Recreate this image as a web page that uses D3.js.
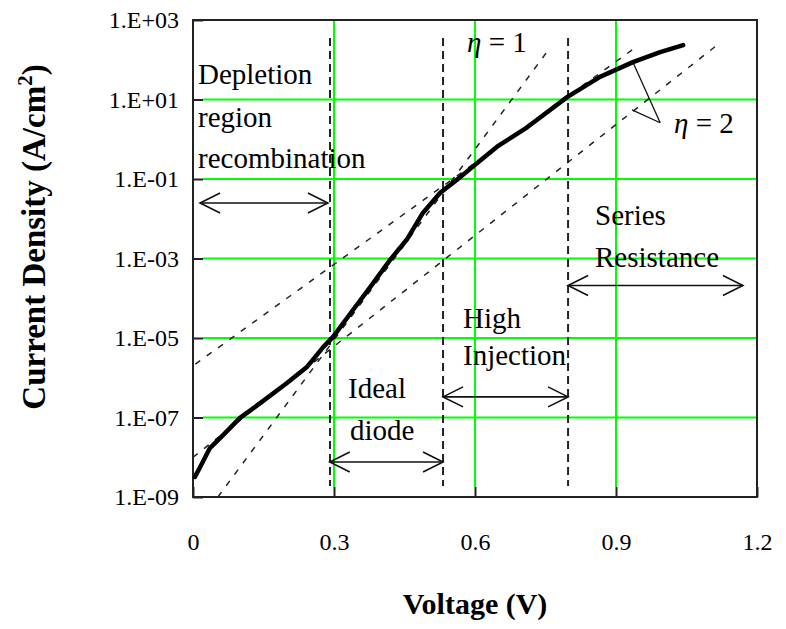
<!DOCTYPE html>
<html><head><meta charset="utf-8">
<script src="https://cdn.jsdelivr.net/npm/d3@7"></script>
<style>body{margin:0;background:#fff}svg{display:block}text{font-family:"Liberation Serif","Times New Roman",serif;fill:#000}</style>
</head><body>
<svg id="c" width="786" height="629"></svg>
<script>
// ---- data ----
const xTicks = [0, 0.3, 0.6, 0.9, 1.2];
const xTickLabels = ["0", "0.3", "0.6", "0.9", "1.2"];
const yTicks = [1e3, 1e1, 1e-1, 1e-3, 1e-5, 1e-7, 1e-9];
const yTickLabels = ["1.E+03", "1.E+01", "1.E-01", "1.E-03", "1.E-05", "1.E-07", "1.E-09"];
// measured J-V curve
const curveV = [0.004, 0.015, 0.036, 0.064, 0.100, 0.143, 0.200, 0.243, 0.277, 0.298, 0.340, 0.377, 0.419, 0.455, 0.489, 0.526, 0.568, 0.604, 0.647, 0.711, 0.796, 0.866, 0.936, 0.994, 1.043];
const curveJ = [3.2e-9, 5.6e-9, 1.7e-8, 3.6e-8, 9.8e-8, 2.3e-7, 7.4e-7, 1.9e-6, 5.9e-6, 1.07e-5, 5.0e-5, 1.9e-4, 9.1e-4, 3.0e-3, 1.4e-2, 4.5e-2, 0.11, 0.25, 0.65, 2.0, 11.5, 37, 87, 155, 234];
// ideality reference lines (end points)
const eta1V = [0.053, 0.753], eta1J = [1e-9, 157];
const eta2aV = [0.005, 0.943], eta2aJ = [2.2e-6, 209];
const eta2bV = [0.0, 1.115], eta2bJ = [1.0e-8, 234];
// region boundaries (V)
const regionV = [0.2915, 0.532, 0.798];
// region arrows: start V, end V, J level
const arrowFrom = [0.015, 0.291, 0.532, 0.798];
const arrowTo = [0.287, 0.532, 0.798, 1.170];
const arrowJ = [2.5e-2, 7.6e-9, 3.3e-7, 2.1e-4];

// ---- drawing ----
const svg = d3.select("#c");
const L = 193, R = 757, T = 20, B = 497;
const x = d3.scaleLinear().domain([0, 1.2]).range([L, R]);
const y = d3.scaleLog().domain([1e-9, 1e3]).range([B, T]);
const GREEN = "#00ff00";

// gridlines
const g = svg.append("g");
g.selectAll(".hg").data(yTicks.slice(1, -1)).join("line")
  .attr("x1", L + 10).attr("x2", R).attr("y1", d => y(d)).attr("y2", d => y(d))
  .attr("stroke", GREEN).attr("stroke-width", 2);
g.selectAll(".vg").data(xTicks.slice(1, -1)).join("line")
  .attr("x1", d => x(d)).attr("x2", d => x(d)).attr("y1", T).attr("y2", B - 10)
  .attr("stroke", GREEN).attr("stroke-width", 2);

// axes with inner ticks
const yAxis = d3.axisLeft(y).tickValues(yTicks).tickSizeInner(-10).tickSizeOuter(0)
  .tickFormat((d, i) => yTickLabels[i]).tickPadding(14);
const ya = svg.append("g").attr("transform", `translate(${L},0)`).call(yAxis);
const xAxis = d3.axisBottom(x).tickValues(xTicks).tickSizeInner(-10).tickSizeOuter(0)
  .tickFormat((d, i) => xTickLabels[i]).tickPadding(36);
const xa = svg.append("g").attr("transform", `translate(0,${B})`).call(xAxis);
[ya, xa].forEach(a => {
  a.select(".domain").remove();
  a.selectAll(".tick line").attr("stroke", "#222").attr("stroke-width", 2);
  a.selectAll(".tick text").style("font-size", "24px").style("font-family", "'Liberation Serif',serif").attr("fill", "#000");
});

// frame
svg.append("rect").attr("x", L).attr("y", T).attr("width", R - L).attr("height", B - T)
  .attr("fill", "none").attr("stroke", "#222").attr("stroke-width", 2);

// region boundaries
svg.selectAll(".rb").data(regionV).join("line")
  .attr("x1", d => x(d)).attr("x2", d => x(d)).attr("y1", 38).attr("y2", 486)
  .attr("stroke", "#222").attr("stroke-width", 2).attr("stroke-dasharray", "8,5");

// ideality lines
const line = d3.line().x(d => x(d[0])).y(d => y(d[1]));
[[eta1V, eta1J], [eta2aV, eta2aJ], [eta2bV, eta2bJ]].forEach(([vs, js]) => {
  svg.append("path").datum(vs.map((v, i) => [v, js[i]])).attr("d", line)
    .attr("fill", "none").attr("stroke", "#222").attr("stroke-width", 1.5).attr("stroke-dasharray", "6,8");
});

// measured curve
svg.append("path").datum(curveV.map((v, i) => [v, curveJ[i]])).attr("d", line)
  .attr("fill", "none").attr("stroke", "#000").attr("stroke-width", 4.5)
  .attr("stroke-linejoin", "round").attr("stroke-linecap", "round");

// region arrows
arrowFrom.forEach((v0, i) => {
  const x0 = x(v0), x1 = x(arrowTo[i]), yy = y(arrowJ[i]);
  const ga = svg.append("g").attr("stroke", "#111").attr("stroke-width", 1.6).attr("fill", "none");
  ga.append("line").attr("x1", x0).attr("x2", x1).attr("y1", yy).attr("y2", yy);
  ga.append("path").attr("d", `M${x0 + 20},${yy - 10}L${x0},${yy}L${x0 + 20},${yy + 10}`);
  ga.append("path").attr("d", `M${x1 - 20},${yy - 10}L${x1},${yy}L${x1 - 20},${yy + 10}`);
});

// eta = 2 pointers
const pv = [0.994, 2.6];
[[0.936, 87], [0.934, 5.5]].forEach(p => {
  svg.append("line").attr("x1", x(pv[0])).attr("y1", y(pv[1])).attr("x2", x(p[0])).attr("y2", y(p[1]))
    .attr("stroke", "#111").attr("stroke-width", 1.3);
});

// annotation texts
const ann = [
  ["Depletion", 198, 84], ["region", 198, 127], ["recombination", 198, 168],
  ["Ideal", 348, 398], ["diode", 350, 440],
  ["High", 463, 328], ["Injection", 463, 365],
  ["Series", 595, 225], ["Resistance", 595, 267]
];
svg.selectAll(".ann").data(ann).join("text")
  .attr("x", d => d[1]).attr("y", d => d[2])
  .style("font-size", "29px").text(d => d[0]);

const eta = [["1", 467, 52], ["2", 674, 133]];
eta.forEach(e => {
  const t = svg.append("text").attr("x", e[1]).attr("y", e[2]).style("font-size", "29px");
  t.append("tspan").style("font-style", "italic").text("η");
  t.append("tspan").text(" = " + e[0]);
});

// axis titles
svg.append("text").attr("x", (L + R) / 2).attr("y", 614).attr("text-anchor", "middle")
  .style("font-size", "30px").style("font-weight", "bold").text("Voltage (V)");
const yt = svg.append("text").attr("transform", "translate(45,237) rotate(-90)").attr("text-anchor", "middle")
  .style("font-size", "33px").style("font-weight", "bold");
yt.append("tspan").text("Current Density (A/cm");
yt.append("tspan").attr("dy", -13).style("font-size", "21px").text("2");
yt.append("tspan").attr("dy", 13).text(")");
</script>
</body></html>
